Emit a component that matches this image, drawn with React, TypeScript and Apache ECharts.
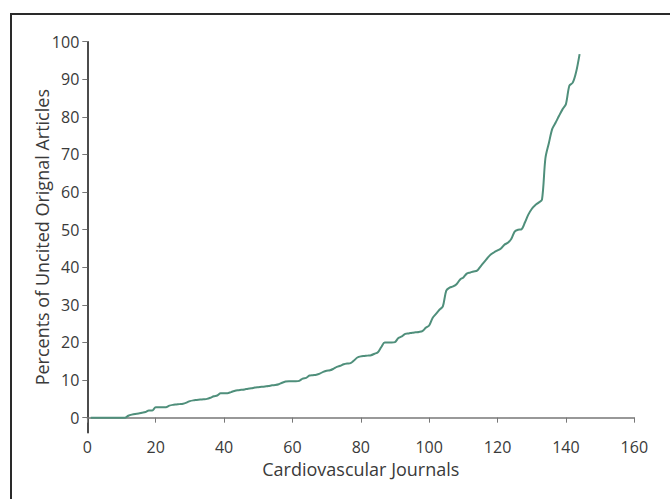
import React, { useEffect, useRef } from "react";
import * as echarts from "echarts";

const journalIndex: number[] = Array.from({ length: 144 }, (_, i) => i + 1);

const uncitedPercent: number[] = [
  0, 0, 0, 0, 0, 0, 0, 0, 0, 0,
  0, 0.5, 0.8, 1.0, 1.1, 1.3, 1.5, 1.9, 1.9, 2.8,
  2.8, 2.8, 2.8, 3.2, 3.4, 3.5, 3.6, 3.7, 4.0, 4.4,
  4.6, 4.7, 4.8, 4.9, 5.0, 5.3, 5.7, 5.9, 6.5, 6.5,
  6.5, 6.8, 7.1, 7.3, 7.4, 7.5, 7.7, 7.8, 8.0, 8.1,
  8.2, 8.3, 8.4, 8.6, 8.7, 8.9, 9.3, 9.6, 9.7, 9.7,
  9.7, 9.8, 10.4, 10.6, 11.2, 11.3, 11.4, 11.7, 12.2, 12.5,
  12.6, 13.0, 13.5, 13.8, 14.2, 14.4, 14.5, 15.2, 16.0, 16.3,
  16.4, 16.5, 16.6, 17.0, 17.4, 18.8, 20.0, 20.0, 20.0, 20.1,
  21.2, 21.6, 22.3, 22.4, 22.6, 22.7, 22.8, 23.0, 23.9, 24.5,
  26.5, 27.6, 28.7, 29.6, 33.8, 34.6, 34.9, 35.5, 36.7, 37.3,
  38.3, 38.6, 38.9, 39.1, 40.2, 41.3, 42.4, 43.4, 44.0, 44.5,
  45.0, 46.0, 46.5, 47.5, 49.5, 50.0, 50.1, 51.9, 54.0, 55.5,
  56.5, 57.2, 58.0, 69.0, 73.0, 76.8, 78.5, 80.3, 82.0, 83.4,
  88.3, 89.1, 92.0, 96.7,
];

const yTicks: number[] = [0, 10, 20, 30, 40, 50, 60, 70, 80, 90, 100];

export default function App() {
  const ref = useRef<HTMLDivElement>(null);

  useEffect(() => {
    if (!ref.current) return;
    const chart = echarts.init(ref.current, undefined, { renderer: "svg" });
    const font = "'Open Sans', Lato, sans-serif";
    chart.setOption({
      animation: false,
      backgroundColor: "#ffffff",
      graphic: [
        {
          type: "rect",
          shape: { x: 11, y: 14, width: 700, height: 520 },
          style: { fill: "none", stroke: "#2a2a2a", lineWidth: 2 },
          silent: true,
        },
      ],
      grid: { left: 87.3, right: 35.7, top: 41.7, bottom: 66.3 },
      xAxis: {
        type: "value",
        min: 0,
        max: 160,
        interval: 20,
        name: "Cardiovascular Journals",
        nameLocation: "middle",
        nameGap: 27,
        nameMoveOverlap: false,
        nameTextStyle: { fontFamily: font, fontSize: 18, lineHeight: 18, color: "#3a3a3a" },
        axisLine: { show: true, lineStyle: { color: "#777", width: 1.5 } },
        axisTick: { show: true, length: 5, lineStyle: { color: "#777" } },
        axisLabel: { fontFamily: font, fontSize: 16, lineHeight: 16, color: "#3a3a3a", margin: 6 },
        splitLine: { show: false },
      },
      yAxis: {
        type: "value",
        min: -4,
        max: 100,
        name: "Percents of Uncited Orignal Articles",
        nameLocation: "middle",
        nameGap: 36,
        nameMoveOverlap: false,
        nameTextStyle: { fontFamily: font, fontSize: 18, lineHeight: 18, color: "#3a3a3a" },
        axisLine: { show: true, lineStyle: { color: "#111", width: 1.5 } },
        axisTick: { show: true, length: 5, lineStyle: { color: "#777" }, customValues: yTicks },
        axisLabel: { fontFamily: font, fontSize: 16, lineHeight: 16, color: "#3a3a3a", margin: 8, customValues: yTicks },
        splitLine: { show: false },
      },
      series: [
        {
          type: "line",
          data: journalIndex.map((x, i) => [x, uncitedPercent[i]]),
          showSymbol: false,
          smooth: 0.3,
          lineStyle: { color: "#4f8f7b", width: 2 },
        },
      ],
    });
    return () => chart.dispose();
  }, []);

  return (
    <div
      ref={ref}
      style={{ position: "fixed", left: 0, top: 0, width: 670, height: 499 }}
    />
  );
}
